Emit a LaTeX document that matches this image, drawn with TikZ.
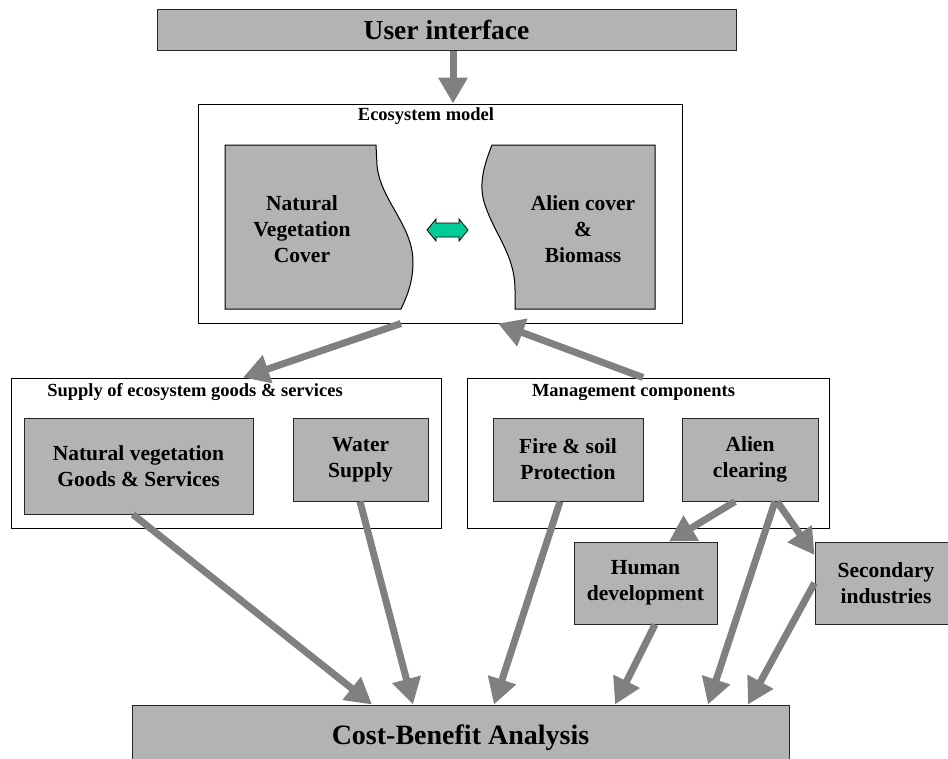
\documentclass[tikz,border=0pt]{standalone}
\usepackage{fontspec}
\setmainfont{Liberation Serif}
\usetikzlibrary{arrows.meta}
\definecolor{boxgray}{RGB}{179,179,179}
\definecolor{arrowgray}{RGB}{128,128,128}
\definecolor{teal1}{RGB}{0,204,153}
\tikzset{
  gbox/.style={draw=black!85, line width=1pt, fill=boxgray, inner sep=0pt, align=center,
    font=\fontsize{21.5}{26}\selectfont\bfseries},
  wbox/.style={draw=black, line width=1pt, fill=white, inner sep=0pt},
  ttl/.style={inner sep=0pt, font=\fontsize{18.5}{21}\selectfont\bfseries},
  shapetext/.style={align=center, inner sep=0pt, font=\fontsize{21.5}{26}\selectfont\bfseries},
  garrow/.style={draw=arrowgray, line width=7pt, -{Triangle[length=26pt,width=28pt,fill=arrowgray]}},
}
\begin{document}
\begin{tikzpicture}[x=1pt,y=-1pt]
\useasboundingbox (0,0) rectangle (948,758);
\clip (0,0) rectangle (948,758);
% top
\node[gbox, minimum width=579pt, minimum height=41pt, font=\fontsize{27.5}{31}\selectfont\bfseries] (ui) at (446.5,29.5) {User interface};
% ecosystem model
\node[wbox, minimum width=484pt, minimum height=219pt] (eco) at (440,213.5) {};
\node[ttl] (ecot) at (426,116) {Ecosystem model};
\path[draw=black, line width=1pt, fill=boxgray] (225,145) -- (376,145) -- (377,165)
  .. controls (380,200) and (413,225) .. (413,262)
  .. controls (413,285) and (405,300) .. (401,309) -- (225,309) -- cycle;
\path[draw=black, line width=1pt, fill=boxgray] (655,145) -- (492,145)
  .. controls (484,165) and (478,185) .. (485,205)
  .. controls (495,235) and (515,255) .. (515,290) -- (515,309) -- (655,309) -- cycle;
\node[shapetext] (nvc) at (302,229) {Natural\\Vegetation\\Cover};
\node[shapetext] (acb) at (583,229) {Alien cover\\\&\\Biomass};
\path[draw=black, line width=0.8pt, fill=teal1] (427,230) -- (436,219) -- (436,223) -- (459,223) -- (459,219) -- (468,230)
  -- (459,241) -- (459,237) -- (436,237) -- (436,241) -- cycle;
% supply
\node[wbox, minimum width=430pt, minimum height=150pt] (sup) at (226,453) {};
\node[ttl] (supt) at (195,392) {Supply of ecosystem goods \& services};
\node[gbox, minimum width=229pt, minimum height=96pt] (nv) at (138.5,466) {Natural vegetation\\Goods \& Services};
\node[gbox, minimum width=135pt, minimum height=83pt] (ws) at (360.5,459.5) {Water\\Supply};
% management
\node[wbox, minimum width=362pt, minimum height=150pt] (mg) at (648,453) {};
\node[ttl] (mgt) at (633.5,392) {Management components};
\node[gbox, minimum width=150pt, minimum height=83pt] (fs) at (568,459.5) {Fire \& soil\\Protection};
\node[gbox, minimum width=136pt, minimum height=83pt] (ac) at (750,459.5) {Alien\\clearing};
% lower boxes
\node[gbox, minimum width=143pt, minimum height=82pt] (hd) at (645.5,583) {Human\\development};
\node[gbox, minimum width=142pt, minimum height=82pt] (si) at (886,583) {Secondary\\industries};
\node[gbox, minimum width=657pt, minimum height=66pt, font=\fontsize{28}{32}\selectfont\bfseries] (cba) at (460.5,738) {Cost-Benefit Analysis};
% arrows
\draw[garrow] (453,0 |- ui.south) -- (453,0 |- eco.north);
\draw[garrow] (401,0 |- eco.south) -- (243,0 |- sup.north);
\draw[garrow] (643,0 |- mg.north) -- (498,0 |- eco.south);
\draw[garrow] (133,0 |- nv.south) -- (372,0 |- cba.north);
\draw[garrow] (360,0 |- ws.south) -- (413,0 |- cba.north);
\draw[garrow] (560,0 |- fs.south) -- (494,0 |- cba.north);
\draw[garrow] (655,0 |- hd.south) -- (615,0 |- cba.north);
\draw[garrow] (775,0 |- ac.south) -- (708,0 |- cba.north);
\draw[garrow] (si.west |- 0,583) -- (748,0 |- cba.north);
\draw[garrow] (735,0 |- ac.south) -- (669,0 |- hd.north);
\draw[garrow] (777,0 |- ac.south) -- (si.west |- 0,555);
\end{tikzpicture}
\end{document}
